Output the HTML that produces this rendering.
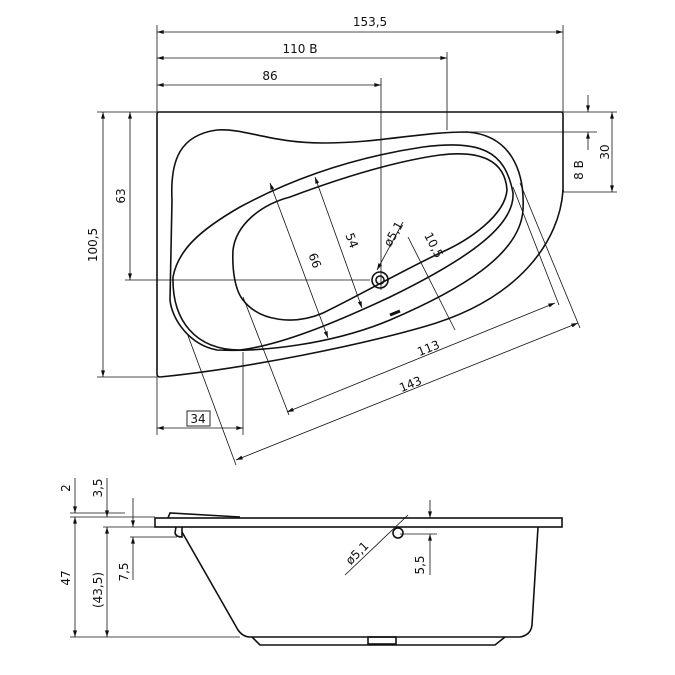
<!DOCTYPE html>
<html><head><style>body{margin:0;background:#fff}svg{display:block}text{font-family:"DejaVu Sans","Liberation Sans",sans-serif;font-size:12px;fill:#111}</style></head>
<body>
<svg width="675" height="675" viewBox="0 0 675 675" xmlns="http://www.w3.org/2000/svg">
<defs><marker id="a" viewBox="0 0 10 6" refX="10" refY="3" markerWidth="9" markerHeight="5" orient="auto-start-reverse"><path d="M0,0L10,3L0,6z" fill="#111"/></marker></defs>
<g fill="none" stroke="#111" stroke-width="0.8">
<line x1="157" y1="25" x2="157" y2="112"/><line x1="563" y1="25" x2="563" y2="112"/>
<line x1="157" y1="32" x2="563" y2="32" marker-start="url(#a)" marker-end="url(#a)"/>
<line x1="447" y1="52" x2="447" y2="130"/>
<line x1="157" y1="58" x2="447" y2="58" marker-start="url(#a)" marker-end="url(#a)"/>
<line x1="381" y1="78" x2="381" y2="290"/>
<line x1="157" y1="85" x2="381" y2="85" marker-start="url(#a)" marker-end="url(#a)"/>
<line x1="97" y1="112" x2="157" y2="112"/><line x1="97" y1="377" x2="157" y2="377"/>
<line x1="103" y1="112" x2="103" y2="377" marker-start="url(#a)" marker-end="url(#a)"/>
<line x1="125" y1="280" x2="370" y2="280"/>
<line x1="130" y1="112" x2="130" y2="280" marker-start="url(#a)" marker-end="url(#a)"/>
<line x1="467" y1="132" x2="597" y2="132"/><line x1="563" y1="192" x2="617" y2="192"/>
<line x1="612" y1="112" x2="612" y2="192" marker-start="url(#a)" marker-end="url(#a)"/>
<line x1="563" y1="112" x2="617" y2="112"/>
<line x1="588" y1="95" x2="588" y2="112" marker-end="url(#a)"/>
<line x1="588" y1="150" x2="588" y2="132" marker-end="url(#a)"/>
<line x1="243" y1="297" x2="289" y2="415"/><line x1="513" y1="187" x2="559" y2="305"/>
<line x1="287" y1="412" x2="555" y2="303" marker-start="url(#a)" marker-end="url(#a)"/>
<line x1="187" y1="333" x2="236" y2="465"/><line x1="520" y1="183" x2="580" y2="328"/>
<line x1="236" y1="460" x2="578" y2="323" marker-start="url(#a)" marker-end="url(#a)"/>
<line x1="270" y1="183" x2="328" y2="338" marker-start="url(#a)" marker-end="url(#a)"/>
<line x1="315" y1="177" x2="362" y2="308" marker-start="url(#a)" marker-end="url(#a)"/>
<line x1="408" y1="237" x2="455" y2="330"/>
<line x1="403" y1="222" x2="377" y2="270" marker-end="url(#a)"/>
<line x1="157" y1="377" x2="157" y2="435"/><line x1="243" y1="352" x2="243" y2="435"/>
<line x1="157" y1="428" x2="243" y2="428" marker-start="url(#a)" marker-end="url(#a)"/>
<rect x="187" y="411" width="23" height="15" stroke-width="0.9"/>
</g>
<g fill="none" stroke="#111" stroke-width="1.6">
<path d="M160,377 Q157,377 157,374 L157,114 Q157,112 159,112 L561,112 Q563,112 563,114 L563,192"/>
<path d="M563,190 C560,240 520,300 423,327 C360,345 250,368 160,377"/>
<path d="M172,200 C170,160 180,135 217,130 C245,128 270,143 323,143 C380,143 420,132 467,132 C510,135 525,170 523,210 C520,255 460,290 390,320 C330,345 260,352 217,350 C190,345 172,320 170,300 Z"/>
<path d="M173,277 C178,250 200,230 240,207 C290,180 350,158 423,147 C480,140 505,150 513,193 C515,225 470,258 390,297 C330,325 280,345 240,350 C195,350 172,320 173,277 Z"/>
<path d="M233,250 C236,225 260,205 290,197 C330,182 390,162 440,155 C480,150 505,160 507,190 C505,215 470,240 440,253 C400,272 360,295 323,313 C295,325 260,322 243,300 C235,290 232,270 233,250 Z"/>
<circle cx="380" cy="280" r="8"/><circle cx="380" cy="280" r="4"/>
<line x1="390" y1="315" x2="400" y2="311" stroke-width="3"/>
</g>
<g>
<text x="370" y="26" text-anchor="middle">153,5</text>
<text x="300" y="53" text-anchor="middle">110 B</text>
<text x="270" y="80" text-anchor="middle">86</text>
<text transform="translate(97,245) rotate(-90)" text-anchor="middle">100,5</text>
<text transform="translate(125,196) rotate(-90)" text-anchor="middle">63</text>
<text transform="translate(609,152) rotate(-90)" text-anchor="middle">30</text>
<text transform="translate(583,170) rotate(-90)" text-anchor="middle">8 B</text>
<text transform="translate(311,262) rotate(69)" text-anchor="middle">66</text>
<text transform="translate(348,242) rotate(69)" text-anchor="middle">54</text>
<text transform="translate(397,236) rotate(-60)" text-anchor="middle">ø5,1</text>
<text transform="translate(430,247) rotate(63)" text-anchor="middle">10,5</text>
<text transform="translate(430,352) rotate(-22)" text-anchor="middle">113</text>
<text transform="translate(412,388) rotate(-22)" text-anchor="middle">143</text>
<text x="198" y="423" text-anchor="middle">34</text>
</g>
<g fill="none" stroke="#111" stroke-width="0.8">
<line x1="75" y1="478" x2="75" y2="513" marker-end="url(#a)"/>
<line x1="75" y1="517" x2="75" y2="637" marker-start="url(#a)" marker-end="url(#a)"/>
<line x1="107" y1="478" x2="107" y2="517" marker-end="url(#a)"/>
<line x1="107" y1="527" x2="107" y2="637" marker-start="url(#a)" marker-end="url(#a)"/>
<line x1="133" y1="498" x2="133" y2="527" marker-end="url(#a)"/>
<line x1="133" y1="580" x2="133" y2="537" marker-end="url(#a)"/>
<line x1="70" y1="513" x2="125" y2="513"/><line x1="70" y1="517" x2="155" y2="517"/>
<line x1="103" y1="527" x2="155" y2="527"/><line x1="130" y1="537" x2="177" y2="537"/>
<line x1="70" y1="637" x2="240" y2="637"/>
<line x1="430" y1="500" x2="430" y2="518" marker-end="url(#a)"/>
<line x1="430" y1="575" x2="430" y2="534" marker-end="url(#a)"/>
<line x1="400" y1="534" x2="437" y2="534"/>
<line x1="408" y1="515" x2="345" y2="575"/>
</g>
<g fill="none" stroke="#111" stroke-width="1.6">
<rect x="155" y="518" width="407" height="9"/>
<path d="M168,518 L170,513 L240,517"/>
<path d="M176,527 L175,533 Q176,537 182,537 L182,527"/>
<path d="M182,532 L238,630 Q243,637 250,637 L520,637 Q531,635 532,625 L538,527"/>
<path d="M252,637 L260,645 L495,645 L505,637"/>
<rect x="368" y="637" width="28" height="7"/>
<circle cx="398" cy="533" r="5"/>
</g>
<g>
<text transform="translate(70,488) rotate(-90)" text-anchor="middle">2</text>
<text transform="translate(102,488) rotate(-90)" text-anchor="middle">3,5</text>
<text transform="translate(70,578) rotate(-90)" text-anchor="middle">47</text>
<text transform="translate(102,590) rotate(-90)" text-anchor="middle">(43,5)</text>
<text transform="translate(128,572) rotate(-90)" text-anchor="middle">7,5</text>
<text transform="translate(424,565) rotate(-90)" text-anchor="middle">5,5</text>
<text transform="translate(360,556) rotate(-45)" text-anchor="middle">ø5,1</text>
</g>
</svg>
</body></html>
